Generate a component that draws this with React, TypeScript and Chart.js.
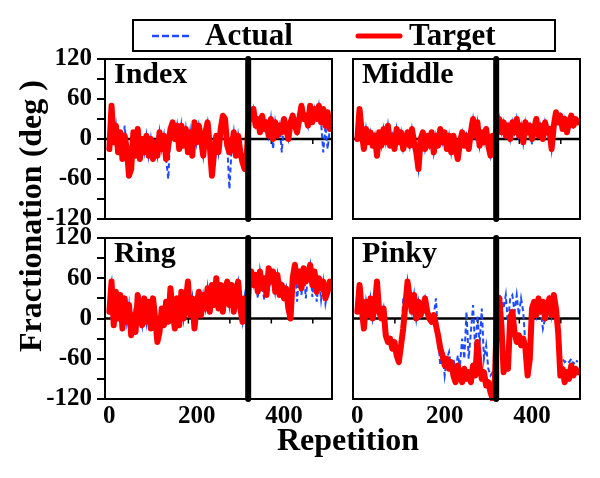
import { useEffect, useRef } from "react";
import { Chart, registerables } from "chart.js";
Chart.register(...registerables);

// ---------- data (values every 5 repetitions, 0..505) ----------
const REP_STEP = 5;

const indexTarget = [
  -15, 50, -5, 20, -20, 10, -30, 5, -15, -55,
  -45, 10, -25, 15, -30, 0, -20, 5, -25, 0,
  -30, -5, -25, 10, -15, 5, -30, -10, 15, 25,
  0, 20, -15, 20, -10, 15, -20, 10, -25, 25,
  -5, 20, 0, -25, 10, 25, -10, -55, -20, 5,
  -20, 15, 35, 30, -10, -20, -15, 10, -25, 5,
  -20, -35, -45, -20, 40, 30, 45, 20, 30, 10,
  35, 15, 25, 5, 30, 0, 25, 5, 20, 10,
  30, 15, 0, 25, 35, 20, 10, 30, 50, 30,
  35, 20, 50, 25, 45, 30, 50, 25, 45, 20,
  40, 15,
];
const indexActual = [
  -15, 50, -5, 20, -20, 10, -30, 20, -15, -55,
  -45, 10, -25, 15, -30, 0, -20, 5, -25, 0,
  -30, -5, -25, 10, -15, 5, -30, -60, 15, 25,
  0, 20, -15, 20, -10, 15, -20, 10, -25, 25,
  -5, 20, 0, -25, 10, 25, -10, -55, -20, 5,
  -20, 15, 35, 30, -10, -75, -15, 10, -25, 5,
  -20, -35, -45, -20, 40, 30, 45, 20, 30, 10,
  35, 15, 25, 5, 30, -15, 25, 5, 20, -20,
  30, 15, 0, 25, 35, 20, 10, 30, 50, 30,
  35, 20, 50, 25, 45, 30, 50, 25, -20, 20,
  -15, 15,
];

const middleTarget = [
  0, 45, 10, -15, 15, -5, 10, -10, 5, -25,
  10, -10, 15, -5, 20, -10, 5, -15, 15, -5,
  10, -15, 0, 10, -10, 15, -5, -20, -45, 0,
  10, -15, 5, -10, 10, -20, 5, -10, 15, -5,
  10, -15, 5, -20, 5, -15, -30, -5, 10, -10,
  5, -15, 10, 30, 5, 25, -10, 10, -5, 15,
  -10, -25, 5, -10, 20, 30, 10, 25, 5, 20,
  0, 25, 10, 30, 5, 20, -5, 25, 10, 20,
  0, 15, 30, 5, 20, 0, 25, 10, 15, -15,
  20, 40, 25, 35, 15, 30, 10, 25, 35, 20,
  30, 25,
];
const middleActual = [
  0, 45, 10, -15, 15, -5, 10, -10, 5, -25,
  10, -10, 15, -5, 20, -10, 5, -15, 15, -5,
  10, -15, 0, 10, -10, 15, -5, -20, -45, 0,
  10, -15, 5, -10, 10, -20, 5, -10, 15, -5,
  10, -15, 5, -20, 5, -15, -30, -5, 10, -10,
  5, -15, 10, 30, 5, 25, -10, 10, -5, 15,
  -10, -25, 5, -10, 5, 30, 10, 25, 5, 20,
  0, 25, 10, 30, 5, 20, -5, 25, 10, 20,
  -8, 15, 30, 5, 20, 0, 25, 10, 15, -15,
  20, 40, 25, 35, 15, 30, 10, 25, 35, 20,
  30, 25,
];

const ringTarget = [
  10, 55, -10, 40, 0, 35, -15, 30, -5, 20,
  -25, 5, -20, 35, 10, -10, 30, -5, 25, -15,
  30, 0, -35, -20, 15, -10, 25, -5, 45, 10,
  -15, 30, -10, 40, 0, 25, 55, 5, 30, -15,
  20, 40, 5, 35, 15, 45, 10, 50, 20, 60,
  15, 50, 10, 45, 55, 20, 50, 10, 40, 55,
  15, -5, 30, 0, 55, 70, 50, 65, 40, 70,
  45, 60, 35, 75, 55, 70, 40, 65, 35, 50,
  30, 45, 15, 0, 60, 80, 55, 70, 45, 75,
  55, 65, 80, 50, 70, 40, 60, 45, 55, 30,
  40, 55,
];
const ringActual = [
  40, 55, -10, 40, 0, 35, -15, 30, -5, 20,
  -25, 5, -20, 35, 10, -10, 30, -5, 25, -15,
  30, 0, -35, -20, 15, -10, 25, -5, 45, 10,
  -15, 30, -10, 40, 0, 25, 55, 5, 30, -15,
  20, 40, 5, 35, 15, 45, 10, 50, 20, 60,
  15, 50, 10, 45, 55, 20, 50, 10, 40, 55,
  15, -5, 30, 0, 55, 70, 50, 65, 30, 70,
  45, 28, 35, 75, 55, 70, 40, 65, 35, 50,
  30, 45, 15, 0, 60, 80, 25, 70, 35, 75,
  30, 65, 80, 32, 70, 25, 60, 28, 55, 22,
  40, 55,
];

const pinkyTarget = [
  10, 50, 15, -15, 25, 5, 30, 0, 20, 55,
  10, 0, 15, -25, -35, -30, -45, -35, -55, -65,
  -40, -15, 20, 55, 30, 10, 35, 0, 25, 5,
  15, 30, 10, 0, -5, 5, -10, -25, -45, -55,
  -70, -60, -75, -65, -85, -95, -70, -85, -95, -75,
  -90, -80, -95, -70, -85, -35, -70, -90, -80, -100,
  -95, -110, -120, -90, 10, 30, -10, -80, -60, -75,
  0, 10, -20, -35, -25, -40, -30, -45, -85, -60,
  15, 25, 5, 30, 10, 25, 0, 20, 30, 5,
  35, 15, -20, -85, -75, -95, -80, -90, -70, -85,
  -75, -80,
];
const pinkyActual = [
  10, 50, 15, -15, 25, 5, 30, 0, 20, 55,
  10, 0, 15, -25, -35, -30, -45, -35, -55, -65,
  -40, 30, 20, 55, 30, 10, 35, 0, 25, 5,
  15, 30, 10, 0, -5, 5, 30, -30, -70, -50,
  -85, -60, -50, -75, -60, -80, -55, -70, -30, -60,
  10, -60, -20, 20, -50, 5, -40, 15, -60, -40,
  -75, -85, -80, -90, 30, 35, 30, 15, 35, -10,
  30, 35, 10, 35, 5, 30, 10, -40, -60, -50,
  15, 25, 5, 30, 10, -15, 0, 20, 30, 5,
  35, 15, -20, -65, -60, -65, -62, -65, -60, -68,
  -62, -65,
];

const repetitions = indexTarget.map((_, i) => i * REP_STEP);
const xTickValues = [0, 200, 400];
const yTickValues = [-120, -90, -60, -30, 0, 30, 60, 90, 120];
const yTickLabels = [-120, -60, 0, 60, 120];
const zeroLineTicks = [86, 181, 276, 371, 466];
const BOUNDARY = 318;
const X_MIN = -10;
const X_MAX = 510;
const Y_MIN = -120;
const Y_MAX = 120;

const legendLabels = ["Actual", "Target"];
const xTitle = "Repetition";
const yTitle = "Fractionation (deg )";

// ---------- layout / style ----------
const W = 600;
const H = 478;
const FONT = "'Liberation Serif', 'Times New Roman', serif";
const RED = "#ff0000";
const BLUE = "#1f4bff";
const COLS = [
  { left: 105, right: 332 },
  { left: 353, right: 580 },
];
const ROWS = [
  { top: 59, bottom: 219 },
  { top: 238, bottom: 399 },
];
const Y_AXIS_W = 64;
const X_AXIS_H = 40;

type Panel = { name: string; target: number[]; actual: number[]; col: number; row: number; global?: boolean };

const PANELS: Panel[] = [
  { name: "Index", target: indexTarget, actual: indexActual, col: 0, row: 0 },
  { name: "Middle", target: middleTarget, actual: middleActual, col: 1, row: 0 },
  { name: "Ring", target: ringTarget, actual: ringActual, col: 0, row: 1, global: true },
  { name: "Pinky", target: pinkyTarget, actual: pinkyActual, col: 1, row: 1 },
];

function panelPlugin(name: string) {
  return {
    id: "panelDeco",
    beforeDatasetsDraw(chart: any) {
      const { ctx, chartArea: a, scales } = chart;
      const y0 = scales.y.getPixelForValue(0);
      ctx.save();
      ctx.strokeStyle = "#000";
      ctx.lineWidth = 2.5;
      ctx.beginPath();
      ctx.moveTo(a.left, y0);
      ctx.lineTo(a.right, y0);
      ctx.stroke();
      ctx.lineWidth = 1.5;
      zeroLineTicks.forEach((v) => {
        const x = scales.x.getPixelForValue(v);
        ctx.beginPath();
        ctx.moveTo(x, y0);
        ctx.lineTo(x, y0 + 5);
        ctx.stroke();
      });
      ctx.restore();
    },
    afterDatasetsDraw(chart: any) {
      const { ctx, chartArea: a, scales } = chart;
      ctx.save();
      const xb = scales.x.getPixelForValue(BOUNDARY);
      ctx.strokeStyle = "#000";
      ctx.lineWidth = 6;
      ctx.lineCap = "round";
      ctx.beginPath();
      ctx.moveTo(xb, a.top);
      ctx.lineTo(xb, a.bottom);
      ctx.stroke();
      ctx.lineCap = "butt";
      ctx.lineWidth = 2;
      ctx.strokeRect(a.left, a.top, a.right - a.left, a.bottom - a.top);
      ctx.font = `bold 30px ${FONT}`;
      ctx.fillStyle = "#000";
      ctx.textAlign = "left";
      ctx.textBaseline = "alphabetic";
      ctx.fillText(name, a.left + 9, a.top + 24);
      ctx.restore();
    },
  };
}

const globalPlugin = {
  id: "globalText",
  afterDraw(chart: any) {
    const ctx = chart.ctx;
    ctx.save();
    // legend box
    ctx.strokeStyle = "#000";
    ctx.lineWidth = 2;
    ctx.strokeRect(133, 20, 422, 31);
    const ly = 36;
    ctx.strokeStyle = BLUE;
    ctx.lineWidth = 2.5;
    ctx.setLineDash([7, 3]);
    ctx.beginPath();
    ctx.moveTo(152, ly);
    ctx.lineTo(192, ly);
    ctx.stroke();
    ctx.setLineDash([]);
    ctx.strokeStyle = RED;
    ctx.lineWidth = 5;
    ctx.lineCap = "round";
    ctx.beginPath();
    ctx.moveTo(358, ly);
    ctx.lineTo(400, ly);
    ctx.stroke();
    ctx.fillStyle = "#000";
    ctx.font = `bold 31px ${FONT}`;
    ctx.textAlign = "left";
    ctx.textBaseline = "middle";
    ctx.fillText(legendLabels[0], 205, ly + 1);
    ctx.fillText(legendLabels[1], 409, ly + 1);
    // axis titles
    ctx.font = `bold 32px ${FONT}`;
    ctx.textAlign = "center";
    ctx.textBaseline = "alphabetic";
    ctx.fillText(xTitle, 348, 450);
    ctx.translate(41, 216);
    ctx.rotate(-Math.PI / 2);
    ctx.fillText(yTitle, 0, 0);
    ctx.restore();
  },
};

function makeConfig(p: Panel): any {
  const col = COLS[p.col];
  const row = ROWS[p.row];
  const showY = p.col === 0;
  const showX = p.row === 1;
  const tickFont = { family: FONT, size: 25, weight: "bold" as const };
  return {
    type: "line",
    data: {
      datasets: [
        {
          label: legendLabels[1],
          data: p.target.map((v, i) => ({ x: repetitions[i], y: v })),
          borderColor: RED,
          borderWidth: 6,
          pointRadius: 0,
          borderJoinStyle: "round",
          borderCapStyle: "round",
          tension: 0,
          order: 0,
          clip: 2,
        },
        {
          label: legendLabels[0],
          data: p.actual.map((v, i) => ({ x: repetitions[i], y: v })),
          borderColor: BLUE,
          borderWidth: 2,
          borderDash: [5, 3],
          pointRadius: 0,
          tension: 0,
          order: 1,
          clip: 2,
        },
      ],
    },
    options: {
      responsive: false,
      animation: false,
      events: [],
      layout: {
        padding: {
          left: showY ? col.left - Y_AXIS_W : col.left,
          right: W - col.right,
          top: row.top,
          bottom: showX ? H - row.bottom - X_AXIS_H : H - row.bottom,
        },
      },
      plugins: { legend: { display: false }, tooltip: { enabled: false } },
      scales: {
        x: {
          type: "linear",
          min: X_MIN,
          max: X_MAX,
          display: showX,
          afterFit: (s: any) => {
            s.height = showX ? X_AXIS_H : 0;
          },
          afterBuildTicks: (s: any) => {
            s.ticks = xTickValues.map((v) => ({ value: v }));
          },
          grid: { display: false, drawTicks: false },
          border: { display: false },
          ticks: { font: tickFont, color: "#000", padding: 3, maxRotation: 0, autoSkip: false },
        },
        y: {
          type: "linear",
          min: Y_MIN,
          max: Y_MAX,
          display: showY,
          afterFit: (s: any) => {
            s.width = showY ? Y_AXIS_W : 0;
          },
          afterBuildTicks: (s: any) => {
            s.ticks = yTickValues.map((v) => ({ value: v }));
          },
          grid: { drawOnChartArea: false, drawTicks: true, tickLength: 8, color: "#000", lineWidth: 2 },
          border: { display: true, color: "#000", width: 2 },
          ticks: {
            font: tickFont,
            color: "#000",
            padding: 5,
            autoSkip: false,
            callback: (v: number) => (yTickLabels.includes(v) ? String(v) : ""),
          },
        },
      },
    },
    plugins: p.global ? [panelPlugin(p.name), globalPlugin] : [panelPlugin(p.name)],
  };
}

function PanelCanvas({ panel }: { panel: Panel }) {
  const ref = useRef<HTMLCanvasElement | null>(null);
  useEffect(() => {
    if (!ref.current) return;
    const chart = new Chart(ref.current, makeConfig(panel));
    return () => chart.destroy();
  }, [panel]);
  return (
    <canvas
      ref={ref}
      width={W}
      height={H}
      style={{ position: "absolute", left: 0, top: 0, width: W, height: H }}
    />
  );
}

export default function App() {
  return (
    <div style={{ position: "fixed", left: 0, top: 0, width: W, height: H, background: "#fff" }}>
      {PANELS.map((p) => (
        <PanelCanvas key={p.name} panel={p} />
      ))}
    </div>
  );
}
